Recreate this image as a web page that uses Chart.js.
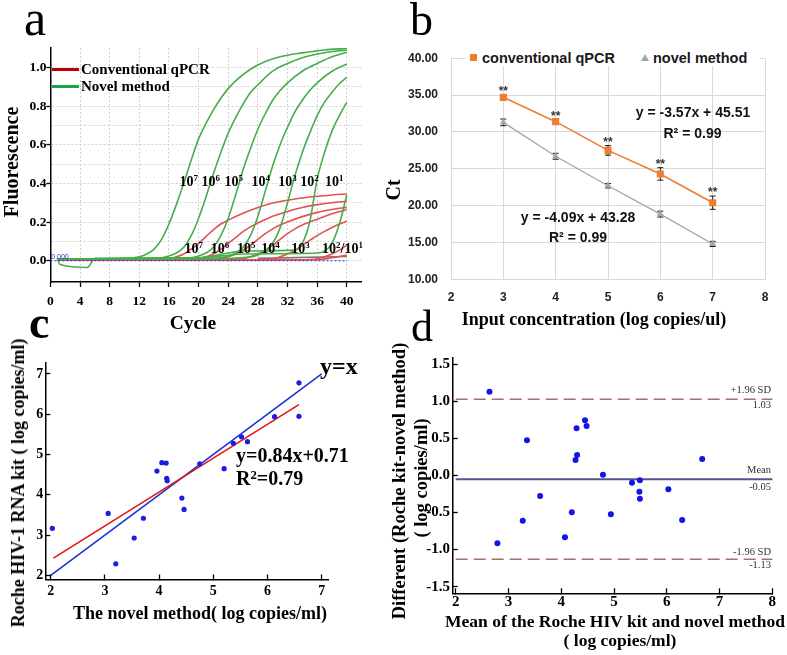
<!DOCTYPE html>
<html><head><meta charset="utf-8">
<script src="https://cdn.jsdelivr.net/npm/chart.js@4.4.0/dist/chart.umd.min.js"></script>
<style>
html,body{margin:0;padding:0;background:#fff;}
#wrap{position:relative;width:787px;height:655px;overflow:hidden;background:#fff;}
canvas{position:absolute;left:0;top:0;}
.t{position:absolute;white-space:nowrap;line-height:1;color:#000;}
.c{transform:translate(-50%,-50%);}
.l{transform:translate(0,-50%);}
.rr{transform:translate(-100%,-50%);}
.r90{transform:translate(-50%,-50%) rotate(-90deg);}
.serif{font-family:"Liberation Serif","Times New Roman",serif;font-weight:bold;}
.serifn{font-family:"Liberation Serif","Times New Roman",serif;font-weight:normal;}
.sans{font-family:"Liberation Sans",Arial,sans-serif;font-weight:bold;}
sup{font-size:0.64em;vertical-align:baseline;position:relative;top:-0.5em;}
.box{position:absolute;}
</style></head><body>
<div id="wrap">
<canvas id="ca" width="787" height="655"></canvas>
<canvas id="cb" width="787" height="655"></canvas>
<canvas id="cc" width="787" height="655"></canvas>
<canvas id="cd" width="787" height="655"></canvas>

<!-- panel a texts -->
<div class="t serifn" style="left:24px;top:-7px;font-size:50px;">a</div>
<div class="t serif r90" style="left:11px;top:162px;font-size:20px;">Fluorescence</div>
<div class="t serif c" style="left:193px;top:323px;font-size:19.5px;">Cycle</div>
<div class="box" style="left:52px;top:67.5px;width:27px;height:3px;background:#c00000;"></div>
<div class="box" style="left:52px;top:84.5px;width:27px;height:3px;background:#1aa64a;"></div>
<div class="t serif l" style="left:81px;top:69px;font-size:15px;">Conventional qPCR</div>
<div class="t serif l" style="left:81px;top:86px;font-size:15px;">Novel method</div>
<div class="t c" style="left:60px;top:255.5px;font-size:7px;font-family:'Liberation Sans',sans-serif;color:#3030d0;">0.000</div>
<div class="t serif c" style="left:188.8px;top:181.5px;font-size:14px;">10<sup>7</sup></div>
<div class="t serif c" style="left:210.8px;top:181.5px;font-size:14px;">10<sup>6</sup></div>
<div class="t serif c" style="left:233.7px;top:181.5px;font-size:14px;">10<sup>5</sup></div>
<div class="t serif c" style="left:260.8px;top:181.5px;font-size:14px;">10<sup>4</sup></div>
<div class="t serif c" style="left:287.5px;top:181.5px;font-size:14px;">10<sup>3</sup></div>
<div class="t serif c" style="left:309.5px;top:181.5px;font-size:14px;">10<sup>2</sup></div>
<div class="t serif c" style="left:334.2px;top:181.5px;font-size:14px;">10<sup>1</sup></div>
<div class="t serif c" style="left:193.7px;top:248.7px;font-size:14px;">10<sup>7</sup></div>
<div class="t serif c" style="left:220px;top:248.7px;font-size:14px;">10<sup>6</sup></div>
<div class="t serif c" style="left:246.3px;top:248.7px;font-size:14px;">10<sup>5</sup></div>
<div class="t serif c" style="left:270.5px;top:248.7px;font-size:14px;">10<sup>4</sup></div>
<div class="t serif c" style="left:300.5px;top:248.7px;font-size:14px;">10<sup>3</sup></div>
<div class="t serif c" style="left:342.5px;top:248.7px;font-size:14px;">10<sup>2</sup>/10<sup>1</sup></div>

<!-- panel b texts -->
<div class="t serifn" style="left:410px;top:-3.5px;font-size:46px;">b</div>
<div class="t serif r90" style="left:393px;top:190px;font-size:20px;">Ct</div>
<div class="t serif c" style="left:594px;top:319px;font-size:18px;">Input concentration (log copies/ul)</div>
<div class="box" style="left:465px;top:49px;width:295px;height:17px;background:#fff;"></div>
<div class="box" style="left:470px;top:54px;width:7px;height:7px;background:#ed7d31;"></div>
<div class="t sans l" style="left:482px;top:57.5px;font-size:14.5px;color:#1a1a1a;">conventional qPCR</div>
<div class="box" style="left:641px;top:54px;width:0;height:0;border-left:4px solid transparent;border-right:4px solid transparent;border-bottom:7px solid #a5a5a5;"></div>
<div class="t sans l" style="left:653px;top:57.5px;font-size:14.5px;color:#1a1a1a;">novel method</div>
<div class="t sans c" style="left:693px;top:111.7px;font-size:14px;color:#111;">y = -3.57x + 45.51</div>
<div class="t sans c" style="left:692.5px;top:132.7px;font-size:14px;color:#111;">R² = 0.99</div>
<div class="t sans c" style="left:578px;top:216.7px;font-size:14px;color:#111;">y = -4.09x + 43.28</div>
<div class="t sans c" style="left:578px;top:237.3px;font-size:14px;color:#111;">R² = 0.99</div>

<!-- panel c texts -->
<div class="t serif" style="left:29px;top:299.5px;font-size:46px;">c</div>
<div class="t serif r90" style="left:18px;top:483px;font-size:18px;">Roche HIV-1 RNA kit ( log copies/ml)</div>
<div class="t serif c" style="left:200px;top:613px;font-size:18px;">The novel method( log copies/ml)</div>
<div class="t serif l" style="left:320px;top:366px;font-size:24px;">y=x</div>
<div class="t serif l" style="left:236px;top:455px;font-size:20px;">y=0.84x+0.71</div>
<div class="t serif l" style="left:236px;top:478px;font-size:20px;">R<sup>2</sup>=0.79</div>

<!-- panel d texts -->
<div class="t serifn" style="left:411px;top:305px;font-size:44px;">d</div>
<div class="t serif r90" style="left:399px;top:481px;font-size:18.5px;">Different (Roche kit-novel method)</div>
<div class="t serif r90" style="left:421px;top:478px;font-size:18.5px;">( log copies/ml)</div>
<div class="t serif c" style="left:615px;top:622px;font-size:17.5px;">Mean of the Roche HIV kit and novel method</div>
<div class="t serif c" style="left:620px;top:641px;font-size:17.5px;">( log copies/ml)</div>
<div class="t serifn rr" style="left:771px;top:390px;font-size:10.5px;color:#333;">+1.96 SD</div>
<div class="t serifn rr" style="left:771px;top:405px;font-size:10.5px;color:#333;">1.03</div>
<div class="t serifn rr" style="left:771px;top:470px;font-size:10.5px;color:#333;">Mean</div>
<div class="t serifn rr" style="left:771px;top:487px;font-size:10.5px;color:#333;">-0.05</div>
<div class="t serifn rr" style="left:771px;top:552px;font-size:10.5px;color:#333;">-1.96 SD</div>
<div class="t serifn rr" style="left:771px;top:565px;font-size:10.5px;color:#333;">-1.13</div>
</div>

<script>
// ---------- Panel a: amplification curves [cycle, fluorescence] ----------
const cycleTicks = [0,4,8,12,16,20,24,28,32,36,40];
const fluorTicks = [0,0.1,0.2,0.3,0.4,0.5,0.6,0.7,0.8,0.9,1.0];
const fluorTickLabels = ['0.0','','0.2','','0.4','','0.6','','0.8','','1.0'];
const threshold = [[0,0],[40,0]];
const novel1 = [[1,0.01],[6,0.01],[10,0.012],[12,0.02],[13,0.035],[14,0.06],[15,0.11],[16,0.19],[17,0.29],[18,0.4],[19,0.52],[20,0.63],[21,0.71],[22,0.78],[23,0.84],[24,0.89],[25,0.93],[27,0.99],[29,1.03],[31,1.055],[34,1.075],[37,1.09],[40,1.098]];
const novel2 = [[1,0.008],[10,0.01],[15,0.015],[16,0.025],[17,0.04],[18,0.07],[19,0.13],[20,0.22],[21,0.33],[22,0.45],[23,0.56],[24,0.66],[25,0.74],[26,0.81],[27,0.87],[28,0.91],[30,0.98],[32,1.02],[34,1.05],[37,1.075],[40,1.09]];
const novel3 = [[1,0.008],[15,0.01],[19,0.015],[20,0.025],[21,0.04],[22,0.07],[23,0.13],[24,0.22],[25,0.34],[26,0.47],[27,0.58],[28,0.68],[29,0.76],[30,0.83],[31,0.88],[32,0.92],[34,0.98],[36,1.02],[38,1.055],[40,1.078]];
const novel4 = [[1,0.008],[18,0.01],[23,0.015],[24,0.025],[25,0.04],[26,0.07],[27,0.13],[28,0.23],[29,0.36],[30,0.49],[31,0.6],[32,0.69],[33,0.77],[34,0.83],[35,0.88],[36,0.92],[38,0.98],[40,1.017]];
const novel5 = [[1,0.008],[22,0.01],[27,0.02],[28,0.03],[29,0.05],[30,0.09],[31,0.17],[32,0.3],[33,0.44],[34,0.56],[35,0.66],[36,0.75],[37,0.82],[38,0.87],[39,0.915],[40,0.948]];
const novel6 = [[1,0.01],[20,0.015],[24,0.04],[26,0.05],[33,0.055],[34,0.09],[35,0.2],[36,0.42],[37,0.56],[38,0.67],[39,0.75],[40,0.819]];
const novel7 = [[1,0.005],[1.3,-0.02],[5,-0.035],[6,0.012],[20,0.015],[26,0.035],[36,0.04],[37,0.05],[38,0.09],[39,0.19],[40,0.34]];
const conv1 = [[1,0.003],[14,0.005],[16,0.01],[17,0.02],[18,0.035],[19,0.06],[20,0.09],[21,0.125],[22,0.16],[23,0.19],[24,0.21],[26,0.245],[28,0.275],[30,0.298],[32,0.313],[34,0.324],[36,0.333],[38,0.34],[40,0.345]];
const conv2 = [[1,0.003],[18,0.005],[20,0.01],[21,0.02],[22,0.035],[23,0.06],[24,0.09],[25,0.12],[26,0.15],[27,0.175],[28,0.195],[30,0.23],[32,0.255],[34,0.275],[36,0.29],[38,0.3],[40,0.307]];
const conv3 = [[1,0.003],[21,0.005],[23,0.01],[24,0.02],[25,0.035],[26,0.055],[27,0.08],[28,0.11],[29,0.14],[30,0.165],[31,0.185],[32,0.2],[34,0.228],[36,0.25],[38,0.265],[40,0.276]];
const conv4 = [[1,0.003],[24,0.005],[26,0.01],[27,0.02],[28,0.035],[29,0.055],[30,0.08],[31,0.11],[32,0.14],[33,0.165],[34,0.185],[35,0.2],[36,0.215],[38,0.243],[40,0.264]];
const conv5 = [[1,0.003],[28,0.005],[30,0.01],[31,0.02],[32,0.035],[33,0.055],[34,0.08],[35,0.105],[36,0.13],[37,0.152],[38,0.172],[39,0.19],[40,0.204]];
const conv6 = [[1,0.003],[34,0.005],[36,0.01],[37,0.02],[38,0.035],[39,0.055],[40,0.08]];
const conv7 = [[1,0.003],[36,0.005],[38,0.015],[40,0.03]];
const ntc = [[28,0.012],[40,0.022]];

// ---------- Panel b: standard curves ----------
const concLog = [3,4,5,6,7];
const ctConventional = [34.7,31.4,27.5,24.3,20.4];
const ctConventionalErr = [0.3,0.3,0.65,0.85,0.9];
const ctNovel = [31.3,26.7,22.7,18.85,14.8];
const ctNovelErr = [0.45,0.4,0.3,0.4,0.35];
const ctTicks = [10,15,20,25,30,35,40];
const ctTickLabels = ['10.00','15.00','20.00','25.00','30.00','35.00','40.00'];
const concTicks = [2,3,4,5,6,7,8];

// ---------- Panel c: correlation ----------
const novelLog = [2.03,3.06,3.2,3.54,3.71,3.96,4.05,4.13,4.14,4.15,4.42,4.46,4.75,5.2,5.37,5.52,5.63,6.13,6.58,6.58];
const rocheLog = [3.17,3.54,2.29,2.93,3.42,4.59,4.8,4.79,4.41,4.35,3.92,3.64,4.77,4.65,5.28,5.44,5.32,5.94,6.78,5.95];
const fitLineX = [2.05,6.58];
const fitLineY = [2.43,6.24];
const identityX = [2,7];
const identityY = [2,7];
const cTicks = [2,3,4,5,6,7];

// ---------- Panel d: Bland-Altman ----------
const meanLog = [2.64,2.79,3.27,3.35,3.6,4.07,4.2,4.27,4.29,4.3,4.45,4.48,4.79,4.94,5.34,5.48,5.49,5.49,6.03,6.29,6.67];
const diffLog = [1.13,-0.915,-0.61,0.475,-0.277,-0.834,-0.497,0.21,0.637,0.277,0.745,0.668,0.011,-0.524,-0.097,-0.218,-0.065,-0.313,-0.187,-0.6,0.223];
const baRangeX = [2,8];
const upperLimit = 1.03, meanDiff = -0.05, lowerLimit = -1.13;
const dxTicks = [2,3,4,5,6,7,8];
const dyTicks = [-1.5,-1,-0.5,0,0.5,1,1.5];
const dyTickLabels = ['-1.5','-1.0','-0.5','0.0','0.5','1.0','1.5'];

// ---------- helpers ----------
const pairs = arr => arr.map(([x,y]) => ({x, y}));
const pts = (xs, ys) => xs.map((x,i) => ({x, y: ys[i]}));
const setTicks = arr => s => { s.ticks = arr.map(v => ({value: v})); };
const fixY = w => s => { s.width = w; s.paddingTop = 0; s.paddingBottom = 0; s.paddingLeft = 0; s.paddingRight = 0; };
const fixX = h => s => { s.height = h; s.paddingLeft = 0; s.paddingRight = 0; s.paddingTop = 0; s.paddingBottom = 0; };
const serif = (size) => ({family: 'Liberation Serif', size, weight: 'bold'});
const sans = (size) => ({family: 'Liberation Sans', size, weight: 'bold'});
function base(padding) {
  return {responsive: false, animation: false, devicePixelRatio: 1, events: [],
    layout: {padding}, plugins: {legend: {display: false}, tooltip: {enabled: false}}};
}
const GREEN = '#45ad4b', RED = '#e25252';
const curve = (d, color) => ({data: pairs(d), borderColor: color, borderWidth: 1.6, pointRadius: 0, cubicInterpolationMode: 'monotone', fill: false});

// ---------- Chart a ----------
new Chart(document.getElementById('ca'), {
  type: 'line',
  data: {datasets: [
    {data: pairs(threshold), borderColor: '#2a2ae0', borderWidth: 1.2, borderDash: [2,2], pointRadius: 0},
    curve(novel1, GREEN), curve(novel2, GREEN), curve(novel3, GREEN), curve(novel4, GREEN),
    curve(novel5, GREEN), curve(novel6, GREEN), curve(novel7, GREEN),
    curve(conv1, RED), curve(conv2, RED), curve(conv3, RED), curve(conv4, RED),
    curve(conv5, RED), curve(conv6, RED), curve(conv7, RED),
    curve(ntc, '#777777')
  ]},
  options: Object.assign(base({left: 0, top: 48, right: 425.4, bottom: 333}), {
    scales: {
      x: {type: 'linear', min: 0, max: 42, afterBuildTicks: setTicks(cycleTicks), afterFit: fixX(40),
        grid: {color: '#d2d2d2', tickLength: 5, tickColor: '#000', tickWidth: 1.3},
        border: {color: '#000', width: 1.5, dash: [2,2]},
        ticks: {font: serif(13.5), color: '#000', padding: 6, maxRotation: 0, autoSkip: false, callback: v => String(v)}},
      y: {type: 'linear', min: -0.11, max: 1.1, afterBuildTicks: setTicks(fluorTicks), afterFit: fixY(50.4),
        grid: {color: '#d2d2d2', tickLength: 4, tickWidth: 1.3, tickColor: c => fluorTickLabels[c.index] ? '#000' : 'rgba(0,0,0,0)'},
        border: {color: '#000', width: 1.5, dash: [2,2]},
        ticks: {font: serif(13.5), color: '#000', padding: 0, autoSkip: false, callback: (v, i) => fluorTickLabels[i]}}
    }
  })
});

// ---------- Chart b ----------
const errorBars = {
  id: 'errorBars',
  beforeDatasetsDraw(chart) {
    const {ctx, scales: {x, y}} = chart;
    chart.data.datasets.forEach(ds => {
      if (!ds.errors) return;
      ctx.save(); ctx.strokeStyle = '#1a1a1a'; ctx.lineWidth = 1;
      ds.data.forEach((p, i) => {
        const px = x.getPixelForValue(p.x), e = ds.errors[i];
        const y1 = y.getPixelForValue(p.y + e), y2 = y.getPixelForValue(p.y - e);
        ctx.beginPath();
        ctx.moveTo(px, y1); ctx.lineTo(px, y2);
        ctx.moveTo(px - 3, y1); ctx.lineTo(px + 3, y1);
        ctx.moveTo(px - 3, y2); ctx.lineTo(px + 3, y2);
        ctx.stroke();
      });
      ctx.restore();
    });
  },
  afterDatasetsDraw(chart) {
    const {ctx, scales: {x, y}} = chart;
    chart.data.datasets.forEach(ds => {
      if (!ds.stars) return;
      ctx.save(); ctx.fillStyle = '#333'; ctx.font = 'bold 12px "Liberation Sans"';
      ctx.textAlign = 'center'; ctx.textBaseline = 'middle';
      ds.data.forEach((p, i) => {
        const px = x.getPixelForValue(p.x), py = y.getPixelForValue(p.y + ds.errors[i]);
        ctx.fillText(ds.stars, px, py - 3);
      });
      ctx.restore();
    });
  }
};
new Chart(document.getElementById('cb'), {
  type: 'line',
  data: {datasets: [
    {data: pts(concLog, ctConventional), errors: ctConventionalErr, stars: '**', borderColor: '#ed7d31', backgroundColor: '#ed7d31',
      borderWidth: 1.6, pointStyle: 'rect', pointRadius: 5, pointBorderWidth: 0},
    {data: pts(concLog, ctNovel), errors: ctNovelErr, borderColor: '#a5a5a5', backgroundColor: '#a5a5a5',
      borderWidth: 1.3, pointStyle: 'triangle', pointRadius: 4.2, pointBorderWidth: 0}
  ]},
  options: Object.assign(base({left: 391, top: 58.3, right: 22, bottom: 345.7}), {
    scales: {
      x: {type: 'linear', min: 2, max: 8, afterBuildTicks: setTicks(concTicks), afterFit: fixX(30),
        grid: {color: '#d9d9d9', drawTicks: false}, border: {color: '#d9d9d9', width: 1},
        ticks: {font: sans(12), color: '#222', padding: 11.5, maxRotation: 0, autoSkip: false, callback: v => String(v)}},
      y: {type: 'linear', min: 10, max: 40, afterBuildTicks: setTicks(ctTicks), afterFit: fixY(60),
        grid: {color: '#d9d9d9', drawTicks: false}, border: {color: '#d9d9d9', width: 1},
        ticks: {font: sans(12), color: '#222', padding: 13, autoSkip: false, callback: (v, i) => ctTickLabels[i]}}
    }
  }),
  plugins: [errorBars]
});

// ---------- Chart c ----------
new Chart(document.getElementById('cc'), {
  type: 'scatter',
  data: {datasets: [
    {data: pts(novelLog, rocheLog), backgroundColor: '#1c1ce4', pointRadius: 2.6, pointBorderWidth: 0},
    {type: 'line', data: pts(fitLineX, fitLineY), borderColor: '#e41414', borderWidth: 1.6, pointRadius: 0, showLine: true},
    {type: 'line', data: pts(identityX, identityY), borderColor: '#1b33d6', borderWidth: 1.6, pointRadius: 0, showLine: true}
  ]},
  options: Object.assign(base({left: 0.3, top: 363.1, right: 458.8, bottom: 35.5}), {
    scales: {
      x: {type: 'linear', min: 1.9, max: 7.12, afterBuildTicks: setTicks(cTicks), afterFit: fixX(40),
        grid: {drawOnChartArea: false, tickLength: -5, tickColor: '#000', tickWidth: 1.3},
        border: {color: '#000', width: 1.5},
        ticks: {font: serif(14), color: '#000', padding: 8.1, maxRotation: 0, autoSkip: false, callback: v => String(v)}},
      y: {type: 'linear', min: 1.9, max: 7.27, afterBuildTicks: setTicks(cTicks), afterFit: fixY(45),
        grid: {drawOnChartArea: false, tickLength: -5, tickColor: '#000', tickWidth: 1.3},
        border: {color: '#000', width: 1.5},
        ticks: {font: serif(14), color: '#000', padding: 7, autoSkip: false, callback: v => String(v)}}
    }
  })
});

// ---------- Chart d ----------
new Chart(document.getElementById('cd'), {
  type: 'scatter',
  data: {datasets: [
    {data: pts(meanLog, diffLog), backgroundColor: '#1414e6', pointRadius: 3, pointBorderWidth: 0},
    {type: 'line', data: pts(baRangeX, [upperLimit, upperLimit]), borderColor: '#a27070', borderWidth: 1.5, borderDash: [12,6], pointRadius: 0, showLine: true},
    {type: 'line', data: pts(baRangeX, [meanDiff, meanDiff]), borderColor: '#52548a', borderWidth: 2, pointRadius: 0, showLine: true},
    {type: 'line', data: pts(baRangeX, [lowerLimit, lowerLimit]), borderColor: '#a27070', borderWidth: 1.5, borderDash: [12,6], pointRadius: 0, showLine: true}
  ]},
  options: Object.assign(base({left: 392.7, top: 358.05, right: 14.1, bottom: 31.7}), {
    scales: {
      x: {type: 'linear', min: 1.943, max: 8.01, afterBuildTicks: setTicks(dxTicks), afterFit: fixX(30),
        grid: {drawOnChartArea: false, tickLength: -5, tickColor: '#000', tickWidth: 1.3},
        border: {color: '#000', width: 1.5},
        ticks: {font: serif(15), color: '#000', padding: 4.7, maxRotation: 0, autoSkip: false, callback: v => String(v)}},
      y: {type: 'linear', min: -1.59, max: 1.585, afterBuildTicks: setTicks(dyTicks), afterFit: fixY(60),
        grid: {drawOnChartArea: false, tickLength: -5, tickColor: '#000', tickWidth: 1.3},
        border: {color: '#000', width: 1.5},
        ticks: {font: serif(15), color: '#000', padding: 7.7, autoSkip: false, callback: (v, i) => dyTickLabels[i]}}
    }
  })
});
</script>
</body></html>
